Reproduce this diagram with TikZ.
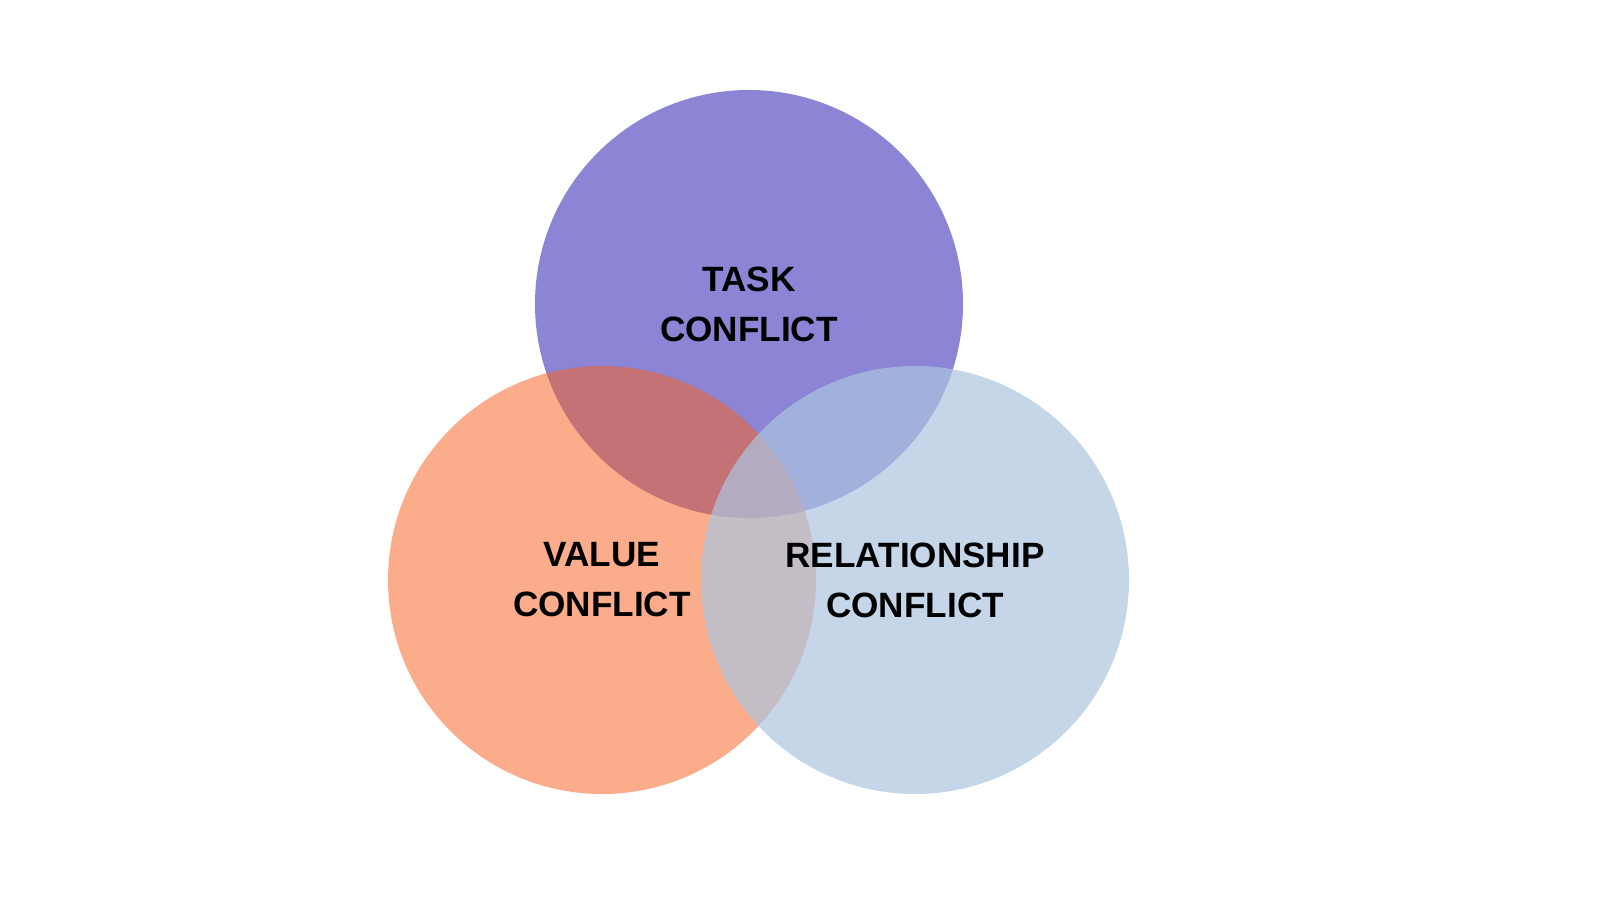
\documentclass[tikz,border=0pt]{standalone}
\usepackage{fontspec}
\setmainfont{Liberation Sans}
\usepackage{xcolor}
\usepackage{tikz}
\usetikzlibrary{positioning}
\definecolor{tpurple}{RGB}{140,132,212}
\definecolor{torange}{RGB}{247,98,36}
\definecolor{tlblue}{RGB}{172,196,224}

\begin{document}
\begin{tikzpicture}[every node/.style={font=\fontsize{10}{14.2}\selectfont\bfseries},
        venn/.style={circle, minimum size=4.28cm, inner sep=0pt, align=center, text opacity=1},
        node distance=0cm]
      \useasboundingbox (0,0) rectangle (16,9);
      \node[venn, fill=tpurple] (task) at (7.49,5.96) {TASK\\CONFLICT};
      \node[venn, fill=torange, fill opacity=0.53] (value) at (6.02,3.20) {VALUE\\CONFLICT};
      \node[venn, fill=tlblue, fill opacity=0.7] (relation) at (9.15,3.20) {RELATIONSHIP\\CONFLICT};
    \end{tikzpicture}
\end{document}
